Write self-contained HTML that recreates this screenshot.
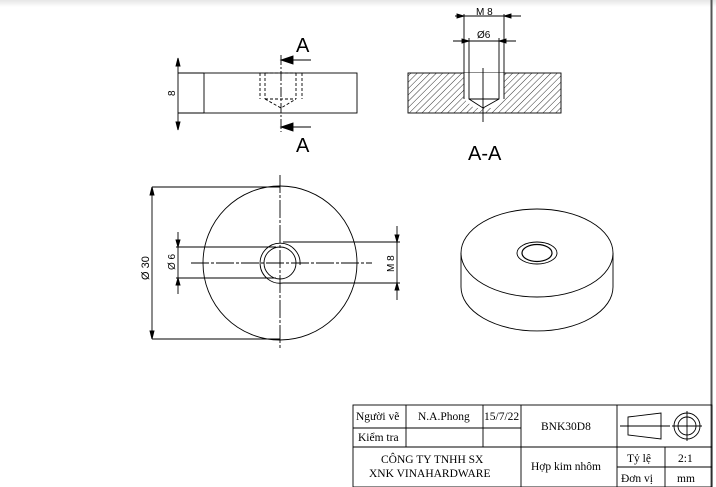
<!DOCTYPE html>
<html><head><meta charset="utf-8"><style>
html,body{margin:0;padding:0;background:#fff;}
svg{display:block;}
text{font-family:"Liberation Sans",sans-serif;}
.t{font-family:"Liberation Serif",serif;font-size:11.5px;fill:#000;}
</style></head><body>
<svg width="716" height="487" viewBox="0 0 716 487" xmlns="http://www.w3.org/2000/svg">
<defs>
<linearGradient id="g" x1="0" y1="0" x2="0" y2="1"><stop offset="0" stop-color="#e6e6e6"/><stop offset="1" stop-color="#fff"/></linearGradient>
<pattern id="h" width="4.5" height="4.5" patternUnits="userSpaceOnUse" patternTransform="rotate(45)"><line x1="0" y1="0" x2="0" y2="4.5" stroke="#000" stroke-width="0.8"/></pattern>
</defs>
<rect x="0" y="0" width="716" height="7" fill="url(#g)"/>
<line x1="711.5" y1="0" x2="711.5" y2="487" stroke="#555" stroke-width="2"/>
<g stroke="#000" stroke-width="0.9" fill="none">
<!-- side view -->
<rect x="204" y="73" width="153" height="40"/>
<line x1="178" y1="73" x2="204" y2="73"/><line x1="178" y1="113" x2="204" y2="113"/>
<line x1="178" y1="58" x2="178" y2="130"/>
<path d="M178,58 l-2,8 h4z M178,130 l-2,-8 h4z" fill="#000"/>
<g stroke-dasharray="3,2"><line x1="260" y1="73" x2="260" y2="99"/><line x1="265" y1="73" x2="265" y2="99"/><line x1="296" y1="73" x2="296" y2="99"/><line x1="302" y1="73" x2="302" y2="99"/><line x1="265" y1="73" x2="296" y2="73"/><line x1="265" y1="99" x2="296" y2="99"/><path d="M265,99 L281,108 L296,99"/></g>
<line x1="281" y1="55" x2="281" y2="132" stroke-dasharray="10,2,2,2"/>
<line x1="289" y1="60" x2="311" y2="60"/><line x1="289" y1="127" x2="311" y2="127"/>
<path d="M281,60 l12,-4 v8z M281,127 l12,-4 v8z" fill="#000"/>
<!-- section -->
<rect x="408" y="73" width="153" height="40" fill="url(#h)"/>
<path d="M464,73 V99 L474,108 H494 L504,99 V73z" fill="#fff" stroke="none"/>
<path d="M469,73 V99 L483,108 L499,99 V73"/>
<line x1="469" y1="99" x2="499" y2="99"/>
<line x1="464" y1="73" x2="464" y2="99"/><line x1="504" y1="73" x2="504" y2="99"/>
<line x1="464" y1="73" x2="464" y2="14"/><line x1="504" y1="73" x2="504" y2="14"/>
<line x1="469" y1="73" x2="469" y2="38"/><line x1="499" y1="73" x2="499" y2="38"/>
<line x1="455" y1="16" x2="521" y2="16"/>
<path d="M464,16 l-7,-2 v4z M504,16 l7,-2 v4z" fill="#000"/>
<line x1="453" y1="41" x2="516" y2="41"/>
<path d="M469,41 l-7,-2 v4z M499,41 l7,-2 v4z" fill="#000"/>
<line x1="483" y1="68" x2="483" y2="122"/>
<!-- front view -->
<circle cx="280" cy="263" r="77"/>
<circle cx="280" cy="263" r="16"/>
<path d="M283,283 A20,20 0 1 1 300,265"/>
<line x1="280" y1="175" x2="280" y2="350" stroke-dasharray="18,2,3,2"/>
<line x1="191" y1="263" x2="372" y2="263" stroke-dasharray="18,2,3,2"/>
<line x1="152" y1="187" x2="280" y2="187"/><line x1="152" y1="339" x2="280" y2="339"/>
<line x1="152" y1="187" x2="152" y2="339"/>
<path d="M152,187 l-2,8 h4z M152,339 l-2,-8 h4z" fill="#000"/>
<line x1="176" y1="247" x2="276" y2="247"/><line x1="176" y1="278" x2="276" y2="278"/>
<line x1="178" y1="232" x2="178" y2="294"/>
<path d="M178,247 l-2,-7 h4z M178,278 l-2,7 h4z" fill="#000"/>
<line x1="283" y1="242" x2="400" y2="242"/><line x1="283" y1="283" x2="400" y2="283"/>
<line x1="397" y1="226" x2="397" y2="300"/>
<path d="M397,242 l-2,-7 h4z M397,283 l-2,7 h4z" fill="#000"/>
<!-- iso -->
<path d="M461,253 V287 A76,44 0 0 0 613,287 V253"/>
<ellipse cx="537" cy="253" rx="76" ry="44"/>
<ellipse cx="537" cy="253" rx="20" ry="11"/>
<ellipse cx="537" cy="253" rx="15" ry="8.5" stroke-width="1.2"/>
<!-- title block -->
<rect x="353" y="405" width="359" height="82"/>
<line x1="353" y1="428" x2="521" y2="428"/>
<line x1="353" y1="447" x2="712" y2="447"/>
<line x1="406" y1="405" x2="406" y2="447"/>
<line x1="483" y1="405" x2="483" y2="447"/>
<line x1="521" y1="405" x2="521" y2="487"/>
<line x1="617" y1="405" x2="617" y2="487"/>
<line x1="665" y1="447" x2="665" y2="487"/>
<line x1="617" y1="467" x2="712" y2="467"/>
<path d="M628,417 L661,413 V439 L628,435z"/>
<line x1="620" y1="426" x2="670" y2="426"/>
<circle cx="687" cy="426" r="13"/><circle cx="687" cy="426" r="9"/>
<line x1="672" y1="426" x2="702" y2="426"/><line x1="687" y1="411" x2="687" y2="441"/>
</g>
<g fill="#000">
<text x="296" y="52" font-size="20">A</text>
<text x="296" y="152" font-size="20">A</text>
<text x="468" y="160" font-size="20">A-A</text>
<text x="476" y="15" font-size="10">M 8</text>
<text x="477" y="38" font-size="10">Ø6</text>
<text transform="translate(175,96) rotate(-90)" font-size="10">8</text>
<text transform="translate(149,280) rotate(-90)" font-size="11">Ø 30</text>
<text transform="translate(175,270) rotate(-90)" font-size="10">Ø 6</text>
<text transform="translate(394,272) rotate(-90)" font-size="10">M 8</text>
</g>
<text class="t" x="356" y="420">Người vẽ</text>
<text class="t" x="418" y="420">N.A.Phong</text>
<text class="t" x="484" y="420">15/7/22</text>
<text class="t" x="358" y="441">Kiểm tra</text>
<text class="t" x="541" y="430">BNK30D8</text>
<text class="t" x="381" y="463">CÔNG TY TNHH SX</text>
<text class="t" x="369" y="477">XNK VINAHARDWARE</text>
<text class="t" x="531" y="470">Hợp kim nhôm</text>
<text class="t" x="627" y="462">Tỷ lệ</text>
<text class="t" x="678" y="462">2:1</text>
<text class="t" x="621" y="482">Đơn vị</text>
<text class="t" x="677" y="482">mm</text>
</svg>
</body></html>
